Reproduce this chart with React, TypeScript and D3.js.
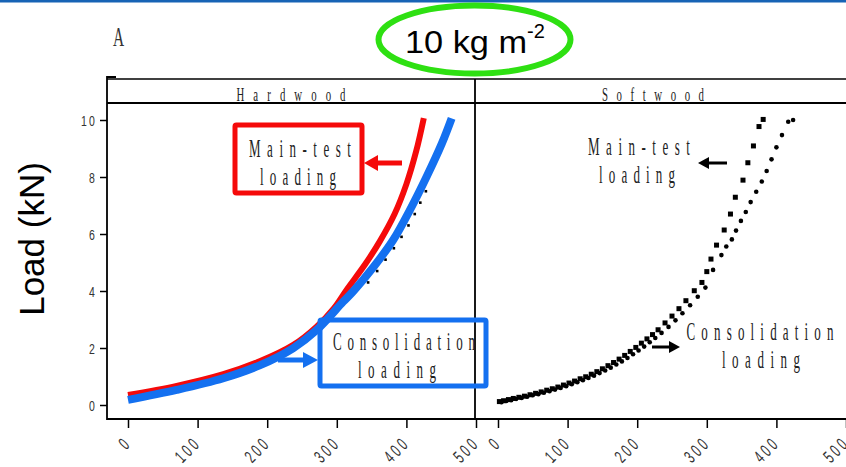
import React, { useEffect, useRef } from 'react';
import * as d3 from 'd3';

// displacement (x) and load (kN)
const hardMainDisp = [0, 70, 137, 190, 237, 271, 296, 314, 340, 362, 383, 400, 414, 425];
const hardMainLoad = [0.35, 0.67, 1.08, 1.54, 2.1, 2.75, 3.4, 4.04, 4.91, 5.75, 6.7, 7.75, 8.9, 10.07];

const hardConsDisp = [0, 70, 137, 190, 237, 271, 309, 324, 353, 381, 405, 429, 451, 465];
const hardConsLoad = [0.18, 0.53, 0.94, 1.4, 1.99, 2.63, 3.62, 4.0, 4.85, 5.79, 6.84, 8.01, 9.18, 10.06];

const hardDotsDisp = [345, 358, 370, 382, 393, 403, 412, 420, 428];
const hardDotsLoad = [4.3, 4.7, 5.1, 5.5, 5.9, 6.3, 6.7, 7.1, 7.5];

const softMainDisp = [2, 8, 15, 22, 30, 38, 46, 54, 62, 70, 78, 86, 94, 102, 110, 118, 126, 134, 142, 150, 158, 166, 174, 182, 190, 198, 206, 214, 222, 230, 240, 250, 260, 270, 282, 293, 300, 306, 314, 325, 334, 341, 352, 359, 367, 375, 381];
const softMainLoad = [0.12, 0.15, 0.19, 0.23, 0.27, 0.31, 0.36, 0.41, 0.46, 0.52, 0.57, 0.63, 0.7, 0.77, 0.84, 0.92, 0.99, 1.08, 1.17, 1.27, 1.38, 1.49, 1.61, 1.74, 1.88, 2.02, 2.17, 2.32, 2.47, 2.64, 2.88, 3.12, 3.38, 3.66, 4.01, 4.3, 4.68, 5.12, 5.61, 6.14, 6.7, 7.29, 7.89, 8.5, 9.09, 9.77, 10.02];

const softConsDisp = [5, 12, 19, 26, 34, 42, 50, 58, 66, 74, 82, 90, 98, 106, 114, 122, 130, 138, 146, 154, 162, 170, 178, 186, 194, 202, 210, 218, 226, 235, 245, 255, 265, 276, 287, 298, 309, 321, 328, 336, 342, 349, 356, 363, 371, 379, 386, 393, 400, 408, 417, 424];
const softConsLoad = [0.1, 0.14, 0.17, 0.21, 0.25, 0.29, 0.34, 0.38, 0.43, 0.48, 0.54, 0.6, 0.66, 0.73, 0.8, 0.87, 0.95, 1.03, 1.12, 1.21, 1.31, 1.42, 1.53, 1.65, 1.78, 1.91, 2.05, 2.2, 2.35, 2.53, 2.74, 2.97, 3.22, 3.5, 3.8, 4.12, 4.74, 5.26, 5.56, 5.81, 6.12, 6.46, 6.77, 7.12, 7.48, 7.84, 8.21, 8.62, 9.04, 9.47, 9.94, 10.0];

const xTicks = [0, 100, 200, 300, 400, 500];
const yTicks = [0, 2, 4, 6, 8, 10];
const panels = ['Hardwood', 'Softwood'];

const RED = '#f50a0a';
const BLUE = '#1470f0';
const GREEN = '#2ee012';
const SERIF = '"Liberation Serif", "DejaVu Serif", serif';
const SANS = '"Liberation Sans", Arial, sans-serif';

const zip = (xs: number[], ys: number[]) => xs.map((x, i) => [x, ys[i]] as [number, number]);

const App = () => {
  const ref = useRef<SVGSVGElement>(null);

  useEffect(() => {
    const svg = d3.select(ref.current);
    svg.selectAll('*').remove();

    const width = 846;
    const stripTop = 79;
    const top = 103;
    const bottom = 419;
    const split = 475;
    const left = 107;

    const xL = d3.scaleLinear().domain([0, 500]).range([128, 476]);
    const xR = d3.scaleLinear().domain([0, 500]).range([498, 846]);
    const y = d3.scaleLinear().domain([0, 10]).range([405, 120]);

    // condensed, letter-spaced serif text like the original plot
    const wideText = (g, txt: string, cx: number, base: number, size: number, w: number, sx: number, color = '#222') => {
      g.append('text')
        .attr('transform', `translate(${cx},${base}) scale(${sx},1)`)
        .attr('text-anchor', 'middle')
        .attr('font-family', SERIF)
        .attr('font-size', size)
        .attr('fill', color)
        .attr('textLength', w / sx)
        .attr('lengthAdjust', 'spacing')
        .text(txt);
    };

    // top blue rule
    svg.append('rect').attr('x', 0).attr('y', 0).attr('width', width).attr('height', 2.5).attr('fill', '#1763b5');

    // title
    wideText(svg, 'A', 118.5, 46, 28, 13, 0.55, '#333');
    svg.append('ellipse')
      .attr('cx', 474.5).attr('cy', 39.5).attr('rx', 96).attr('ry', 34)
      .attr('fill', 'none').attr('stroke', GREEN).attr('stroke-width', 6);
    svg.append('text')
      .attr('x', 405).attr('y', 53)
      .attr('font-family', SANS).attr('font-size', 32).attr('fill', '#000')
      .attr('textLength', 122).attr('lengthAdjust', 'spacingAndGlyphs')
      .text('10 kg m');
    svg.append('text')
      .attr('x', 527).attr('y', 38)
      .attr('font-family', SANS).attr('font-size', 20).attr('fill', '#000')
      .text('-2');

    // y label
    svg.append('text')
      .attr('transform', `translate(44,239) rotate(-90)`)
      .attr('text-anchor', 'middle')
      .attr('font-family', SANS).attr('font-size', 35).attr('fill', '#000')
      .text('Load (kN)');

    // frames and strips
    const frame = svg.append('g').attr('fill', 'none').attr('stroke', '#000');
    frame.append('path').attr('d', `M${left + 9},77 H${left} V${bottom} H${width + 5}`).attr('stroke-width', 1.8);
    frame.append('line').attr('x1', left).attr('x2', width + 5).attr('y1', stripTop).attr('y2', stripTop).attr('stroke-width', 1.4);
    frame.append('line').attr('x1', left).attr('x2', width + 5).attr('y1', top).attr('y2', top).attr('stroke-width', 1.8);
    frame.append('line').attr('x1', split).attr('x2', split).attr('y1', stripTop).attr('y2', bottom).attr('stroke-width', 1.8);

    wideText(svg, panels[0], 291, 101, 18, 109, 0.6);
    wideText(svg, panels[1], 653, 101, 18, 102, 0.6);

    // axes
    const styleX = g => {
      g.select('.domain').remove();
      g.selectAll('line').attr('stroke', '#000').attr('stroke-width', 1.5);
      g.selectAll('text')
        .attr('x', null).attr('y', null).attr('dy', null)
        .attr('transform', 'translate(4,25) rotate(-45) scale(0.62,1)')
        .attr('text-anchor', 'end')
        .attr('letter-spacing', 5)
        .attr('font-family', SANS).attr('font-size', 18).attr('fill', '#333');
    };
    svg.append('g').attr('transform', `translate(0,${bottom})`)
      .call(d3.axisBottom(xL).tickValues(xTicks).tickSize(9).tickSizeOuter(0)).call(styleX);
    svg.append('g').attr('transform', `translate(0,${bottom})`)
      .call(d3.axisBottom(xR).tickValues(xTicks).tickSize(9).tickSizeOuter(0)).call(styleX);

    svg.append('g').attr('transform', `translate(${left},0)`)
      .call(d3.axisLeft(y).tickValues(yTicks).tickSize(7).tickSizeOuter(0))
      .call(g => {
        g.select('.domain').remove();
        g.selectAll('line').attr('stroke', '#000').attr('stroke-width', 1.5);
        g.selectAll('text')
          .attr('x', null).attr('dy', null)
          .attr('transform', 'translate(-10,5.5) scale(0.7,1)')
          .attr('text-anchor', 'end')
          .attr('letter-spacing', 3)
          .attr('font-family', SANS).attr('font-size', 15).attr('fill', '#333');
      });

    // hardwood panel
    const hard = svg.append('g');
    hard.selectAll('rect.hd')
      .data(zip(hardDotsDisp, hardDotsLoad))
      .enter().append('rect').attr('class', 'hd')
      .attr('x', d => xL(d[0]) - 1.3).attr('y', d => y(d[1]) - 1.3)
      .attr('width', 2.6).attr('height', 2.6).attr('fill', '#000');

    const lineL = d3.line<[number, number]>().x(d => xL(d[0])).y(d => y(d[1])).curve(d3.curveCatmullRom.alpha(0.5));
    hard.append('path').attr('d', lineL(zip(hardMainDisp, hardMainLoad)))
      .attr('fill', 'none').attr('stroke', RED).attr('stroke-width', 6);
    hard.append('path').attr('d', lineL(zip(hardConsDisp, hardConsLoad)))
      .attr('fill', 'none').attr('stroke', BLUE).attr('stroke-width', 8);

    // softwood panel
    const soft = svg.append('g');
    soft.selectAll('circle')
      .data(zip(softConsDisp, softConsLoad))
      .enter().append('circle')
      .attr('cx', d => xR(d[0])).attr('cy', d => y(d[1])).attr('r', 2.3).attr('fill', '#000');
    soft.selectAll('rect')
      .data(zip(softMainDisp, softMainLoad))
      .enter().append('rect')
      .attr('x', d => xR(d[0]) - 2.5).attr('y', d => y(d[1]) - 2.5)
      .attr('width', 5).attr('height', 5).attr('fill', '#000');

    // annotations
    const arrow = (x1: number, x2: number, yy: number, color: string, sw: number, hl: number, hw: number) => {
      const dir = Math.sign(x2 - x1);
      svg.append('line').attr('x1', x1).attr('x2', x2 - dir * hl).attr('y1', yy).attr('y2', yy)
        .attr('stroke', color).attr('stroke-width', sw);
      svg.append('path')
        .attr('d', `M${x2},${yy} L${x2 - dir * hl},${yy - hw} L${x2 - dir * hl},${yy + hw} Z`)
        .attr('fill', color);
    };

    svg.append('rect').attr('x', 235).attr('y', 125).attr('width', 127).attr('height', 68)
      .attr('fill', '#fff').attr('stroke', RED).attr('stroke-width', 5).attr('rx', 1.5);
    wideText(svg, 'Main-test', 300, 157, 26, 102, 0.5);
    wideText(svg, 'loading', 298, 185, 26, 76, 0.5);
    arrow(402, 364, 163, RED, 5, 14, 8);

    svg.append('rect').attr('x', 320).attr('y', 320).attr('width', 166).attr('height', 66)
      .attr('fill', 'none').attr('stroke', BLUE).attr('stroke-width', 5).attr('rx', 1.5);
    wideText(svg, 'Consolidation', 404, 350, 26, 142, 0.5);
    wideText(svg, 'loading', 397, 378, 26, 78, 0.5);
    arrow(278, 318, 360, BLUE, 5, 15, 8);

    wideText(svg, 'Main-test', 639, 155, 26, 102, 0.5);
    wideText(svg, 'loading', 637, 183, 26, 76, 0.5);
    arrow(727, 698, 163, '#000', 3, 11, 6);

    wideText(svg, 'Consolidation', 760, 340, 26, 147, 0.5);
    wideText(svg, 'loading', 761, 368, 26, 78, 0.5);
    arrow(652, 680, 347, '#000', 3, 11, 6);
  }, []);

  return (
    <svg ref={ref} width={846} height={467} style={{ position: 'absolute', left: 0, top: 0, background: '#fff' }} />
  );
};

export default App;
